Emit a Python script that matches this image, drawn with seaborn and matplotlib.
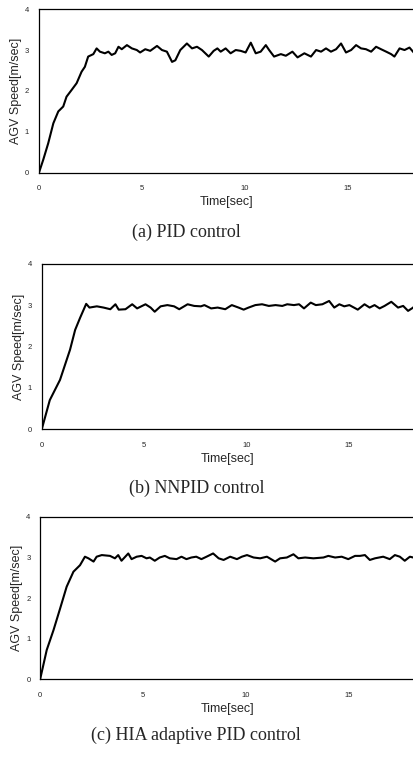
import numpy as np
import pandas as pd
import matplotlib
matplotlib.use("Agg")
import matplotlib.pyplot as plt
import seaborn as sns

# (a) PID control
pid_time = [0, 0.21, 0.45, 0.7, 0.94, 1.18, 1.34, 1.58, 1.83, 2.07, 2.23, 2.39, 2.64, 2.8, 2.96,
            3.2, 3.37, 3.53, 3.7, 3.86, 4.02, 4.27, 4.51, 4.75, 4.91, 5.16, 5.4, 5.73, 5.97,
            6.21, 6.46, 6.62, 6.86, 7.18, 7.43, 7.67, 7.91, 8.24, 8.48, 8.66, 8.82, 9.06, 9.3,
            9.55, 9.79, 10.03, 10.28, 10.52, 10.76, 11.01, 11.17, 11.41, 11.74, 11.98, 12.3,
            12.55, 12.88, 13.2, 13.45, 13.69, 13.93, 14.17, 14.42, 14.66, 14.9, 15.15, 15.39,
            15.63, 15.87, 16.12, 16.36, 16.6, 16.85, 17.09, 17.25, 17.5, 17.74, 17.98, 18.22]
pid_speed = [0, 0.32, 0.72, 1.21, 1.5, 1.62, 1.86, 2.02, 2.19, 2.47, 2.59, 2.84, 2.9, 3.04, 2.96,
             2.92, 2.96, 2.88, 2.92, 3.08, 3.02, 3.12, 3.04, 3.0, 2.94, 3.02, 2.98, 3.1, 3.0,
             2.96, 2.71, 2.75, 3.0, 3.16, 3.04, 3.08, 3.0, 2.84, 2.98, 3.04, 2.96, 3.04, 2.92,
             3.0, 2.98, 2.94, 3.18, 2.92, 2.96, 3.12, 3.0, 2.84, 2.9, 2.86, 2.96,
             2.82, 2.92, 2.84, 3.0, 2.96, 3.04, 2.96, 3.02, 3.16, 2.94, 3.0, 3.12,
             3.04, 3.02, 2.96, 3.08, 3.02, 2.96, 2.9, 2.84, 3.04, 3.0, 3.06, 2.92]

# (b) NNPID control
nnpid_time = [0, 0.39, 0.89, 1.38, 1.63, 1.87, 2.17, 2.33, 2.69, 3.02, 3.35, 3.6, 3.76, 4.09,
              4.42, 4.66, 5.07, 5.32, 5.52, 5.81, 6.14, 6.47, 6.72, 7.13, 7.45, 7.78, 7.95,
              8.28, 8.6, 8.97, 9.29, 9.62, 9.87, 10.11, 10.44, 10.77, 11.1, 11.43, 11.76, 12.0,
              12.33, 12.58, 12.82, 13.15, 13.4, 13.72, 14.05, 14.3, 14.55, 14.79, 15.04, 15.45,
              15.78, 16.03, 16.27, 16.52, 16.76, 17.09, 17.42, 17.67, 17.91, 18.16, 18.32]
nnpid_speed = [0, 0.7, 1.19, 1.92, 2.4, 2.69, 3.03, 2.94, 2.97, 2.94, 2.9, 3.02, 2.89, 2.9,
               3.02, 2.92, 3.02, 2.94, 2.84, 2.97, 3.0, 2.97, 2.9, 3.02, 2.98, 2.97, 3.0,
               2.92, 2.94, 2.9, 3.0, 2.94, 2.89, 2.94, 3.0, 3.02, 2.98, 3.0, 2.98, 3.02,
               3.0, 3.02, 2.92, 3.06, 3.0, 3.02, 3.1, 2.94, 3.02, 2.97, 3.0, 2.89,
               3.02, 2.94, 3.0, 2.92, 2.98, 3.08, 2.94, 2.98, 2.86, 2.94, 3.05]

# (c) HIA adaptive PID control
hia_time = [0, 0.32, 0.65, 0.97, 1.29, 1.62, 1.94, 2.18, 2.35, 2.6, 2.75, 3.0, 3.4, 3.64, 3.8,
            3.96, 4.29, 4.45, 4.7, 4.94, 5.18, 5.34, 5.58, 5.82, 6.07, 6.31, 6.64, 6.88, 7.12,
            7.36, 7.6, 7.85, 8.1, 8.42, 8.69, 8.93, 9.25, 9.58, 9.82, 10.07, 10.39, 10.71, 11.04,
            11.44, 11.68, 12.01, 12.33, 12.57, 12.9, 13.3, 13.79, 14.03, 14.36, 14.68, 15.0,
            15.33, 15.57, 15.81, 16.05, 16.3, 16.7, 17.02, 17.27, 17.51, 17.75, 18.0, 18.16]
hia_speed = [0, 0.72, 1.21, 1.74, 2.28, 2.65, 2.81, 3.02, 2.98, 2.9, 3.02, 3.06, 3.04, 2.98, 3.06,
             2.92, 3.1, 2.96, 3.02, 3.04, 2.98, 3.0, 2.92, 3.0, 3.04, 2.98, 2.96, 3.02, 2.96,
             3.0, 3.02, 2.96, 3.02, 3.1, 2.98, 2.94, 3.02, 2.96, 3.02, 3.06, 3.0, 2.98, 3.02,
             2.9, 2.98, 3.0, 3.08, 2.98, 3.0, 2.98, 3.0, 3.04, 3.0, 3.02, 2.96,
             3.04, 3.04, 3.06, 2.94, 2.98, 3.02, 2.96, 3.06, 3.02, 2.92, 3.02, 3.0]

captions = ["(a) PID control", "(b) NNPID control", "(c) HIA adaptive PID control"]
x_ticks = [0, 5, 10, 15]
y_ticks = [0, 1, 2, 3, 4]

sns.set_style("white")
plt.rcParams["font.family"] = ["Liberation Sans", "DejaVu Sans"]
fig = plt.figure(figsize=(4.14, 7.58), dpi=100)

# axes boxes in figure fraction: left, bottom, width, height
boxes = [(0.094, 0.772, 0.906, 0.216),
         (0.101, 0.434, 0.899, 0.218),
         (0.097, 0.104, 0.903, 0.214)]
cap_pos = [(0.45, 0.693), (0.476, 0.356), (0.473, 0.030)]
series = [(pid_time, pid_speed), (nnpid_time, nnpid_speed), (hia_time, hia_speed)]

for box, (t, v), cap, cp in zip(boxes, series, captions, cap_pos):
    ax = fig.add_axes(box)
    df = pd.DataFrame({"t": t, "v": v})
    sns.lineplot(data=df, x="t", y="v", ax=ax, color="black", linewidth=1.5)
    ax.set_xlim(0, 18.2)
    ax.set_ylim(0, 4)
    ax.set_xticks(x_ticks)
    ax.set_yticks(y_ticks)
    ax.tick_params(length=0, labelsize=5.5, pad=9)
    ax.tick_params(axis="y", pad=7)
    ax.set_xlabel("Time[sec]", fontsize=9, labelpad=3)
    ax.set_ylabel("AGV Speed[m/sec]", fontsize=9, labelpad=2)
    for s in ["left", "bottom", "top"]:
        ax.spines[s].set_color("black")
        ax.spines[s].set_linewidth(0.9)
    ax.spines["right"].set_visible(False)
    fig.text(cp[0], cp[1], cap, ha="center", va="center", fontsize=13,
             family="Liberation Serif")

fig.savefig("out.png", dpi=100)
